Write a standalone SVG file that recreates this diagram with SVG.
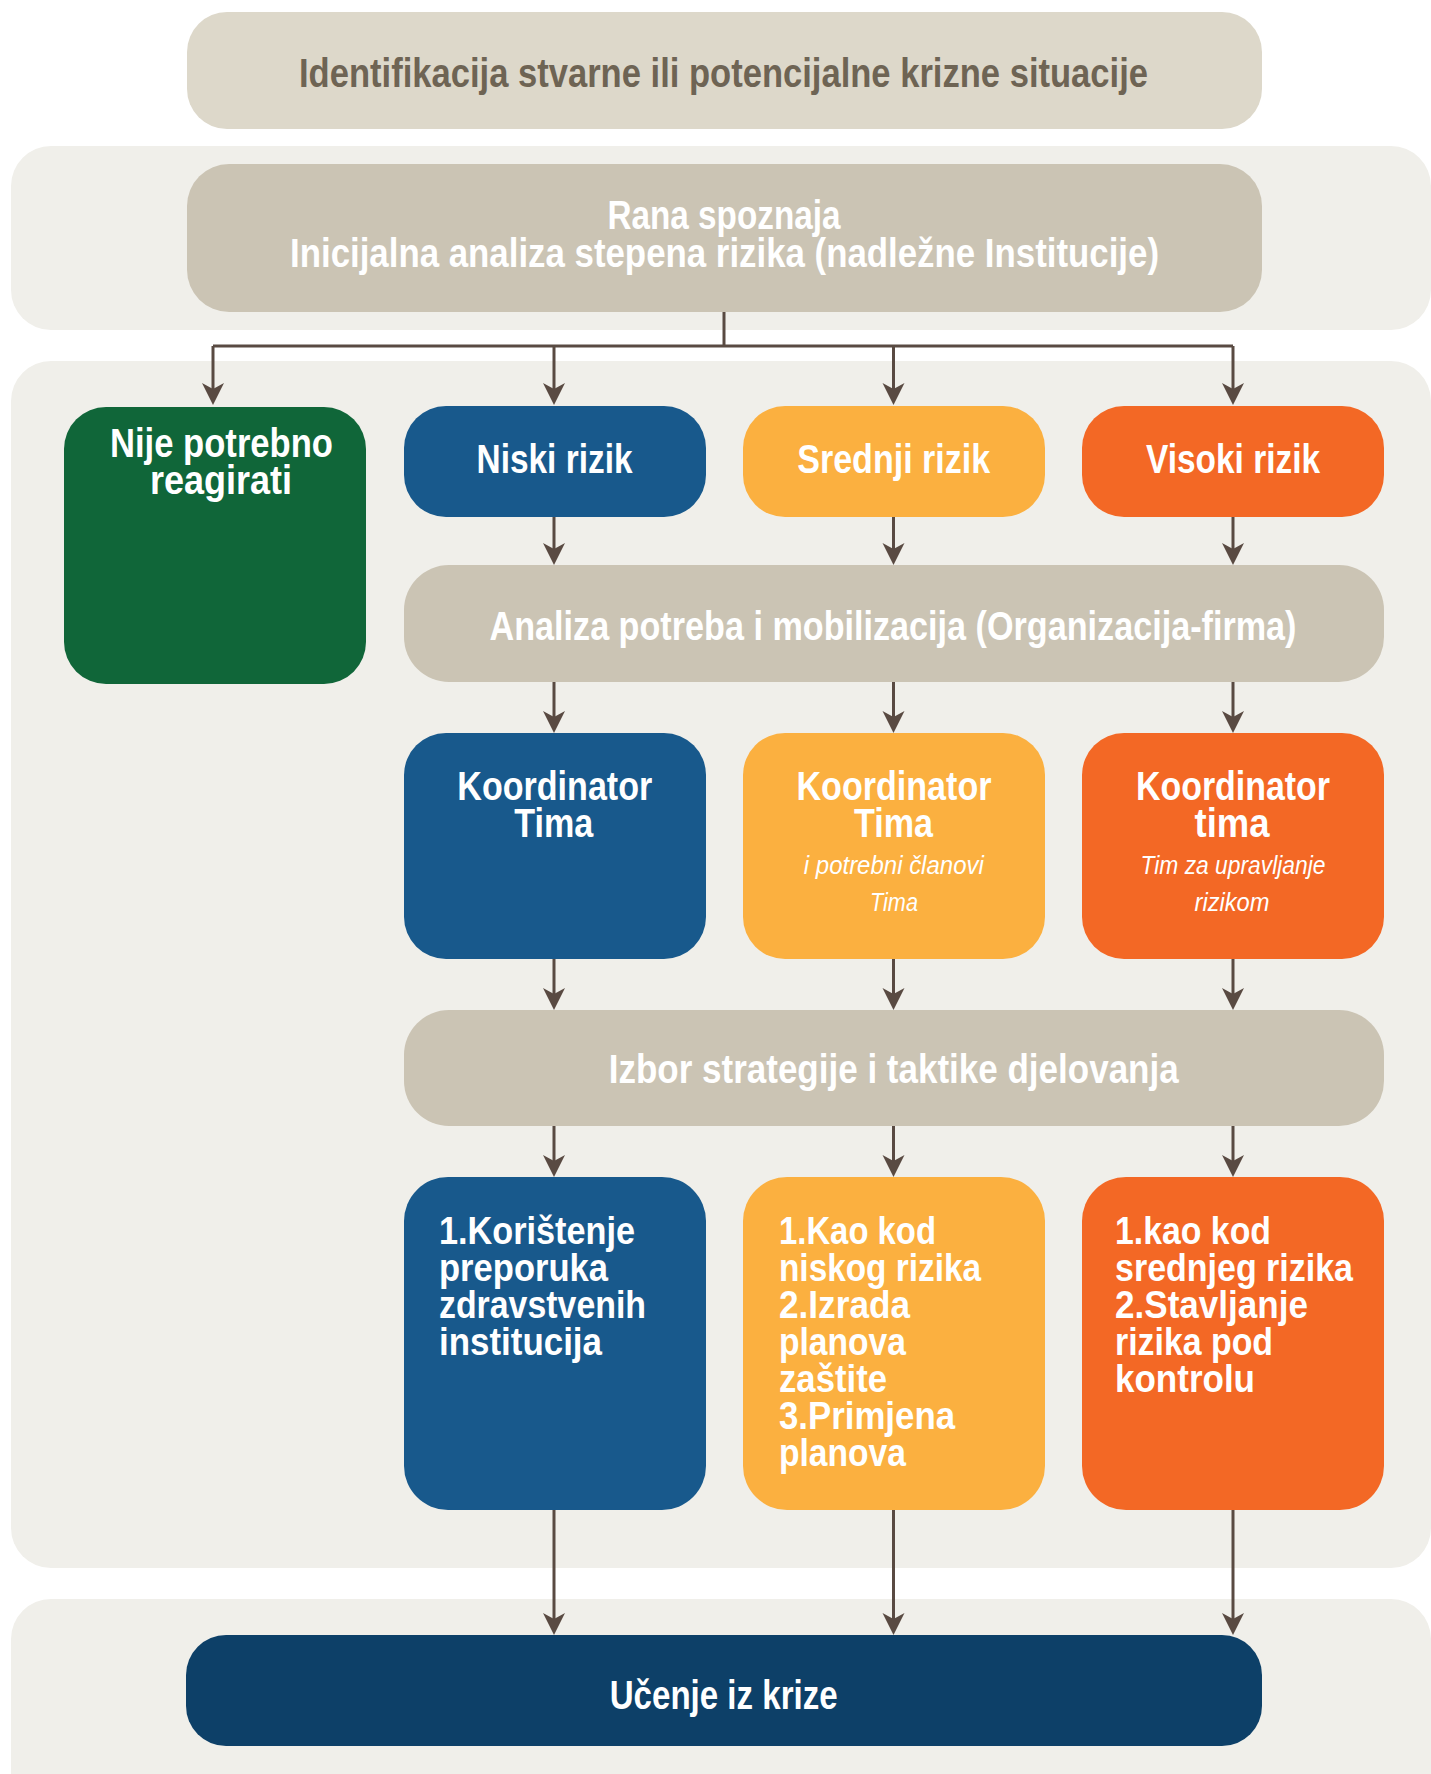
<svg xmlns="http://www.w3.org/2000/svg" width="1431" height="1774" viewBox="0 0 1431 1774">
<defs>
<style>
.t{font-family:"Liberation Sans Narrow","Liberation Sans",Arial,sans-serif;font-weight:bold;font-size:41px;fill:#ffffff;text-anchor:middle}
.l{font-family:"Liberation Sans Narrow","Liberation Sans",Arial,sans-serif;font-weight:bold;font-size:38px;fill:#ffffff;text-anchor:start}
.i{font-family:"Liberation Sans Narrow","Liberation Sans",Arial,sans-serif;font-style:italic;font-size:26px;fill:#ffffff;text-anchor:middle}
.panel{fill:#f0efea}
.grey{fill:#cbc4b4}
.blue{fill:#18598c}
.yel{fill:#fbb040}
.ora{fill:#f36825}
.conn{fill:none;stroke:#594a42;stroke-width:3}
</style>
<marker id="ah" markerUnits="userSpaceOnUse" viewBox="-23 -12 24 24" markerWidth="24" markerHeight="24" refX="-6" refY="0" orient="auto">
<path d="M0,0 L-22,-11 L-16,0 L-22,11 Z" fill="#594a42"/>
</marker>
</defs>
<rect width="1431" height="1774" fill="#ffffff"/>
<g id="panels">
<rect class="panel" x="11" y="146" width="1420" height="184" rx="40"/>
<rect class="panel" x="11" y="361" width="1420" height="1207" rx="40"/>
<rect class="panel" x="11" y="1599" width="1420" height="220" rx="40"/>
</g>
<g id="connectors">
<path class="conn" d="M724,312 V346"/>
<path class="conn" d="M213,346 H1233"/>
<path class="conn" marker-end="url(#ah)" d="M213,346 V399"/>
<path class="conn" marker-end="url(#ah)" d="M554,346 V399"/>
<path class="conn" marker-end="url(#ah)" d="M893.5,346 V399"/>
<path class="conn" marker-end="url(#ah)" d="M1233,346 V399"/>
<path class="conn" marker-end="url(#ah)" d="M554,517 V559"/>
<path class="conn" marker-end="url(#ah)" d="M893.5,517 V559"/>
<path class="conn" marker-end="url(#ah)" d="M1233,517 V559"/>
<path class="conn" marker-end="url(#ah)" d="M554,682 V727"/>
<path class="conn" marker-end="url(#ah)" d="M893.5,682 V727"/>
<path class="conn" marker-end="url(#ah)" d="M1233,682 V727"/>
<path class="conn" marker-end="url(#ah)" d="M554,959 V1004"/>
<path class="conn" marker-end="url(#ah)" d="M893.5,959 V1004"/>
<path class="conn" marker-end="url(#ah)" d="M1233,959 V1004"/>
<path class="conn" marker-end="url(#ah)" d="M554,1126 V1171"/>
<path class="conn" marker-end="url(#ah)" d="M893.5,1126 V1171"/>
<path class="conn" marker-end="url(#ah)" d="M1233,1126 V1171"/>
<path class="conn" marker-end="url(#ah)" d="M554,1510 V1629"/>
<path class="conn" marker-end="url(#ah)" d="M893.5,1510 V1629"/>
<path class="conn" marker-end="url(#ah)" d="M1233,1510 V1629"/>
</g>
<g id="identifikacija">
<rect x="187" y="12" width="1075" height="117" rx="40" fill="#ddd8ca"/>
<text class="t" x="723.5" y="87" textLength="849" lengthAdjust="spacingAndGlyphs" style="fill:#6e6454">Identifikacija stvarne ili potencijalne krizne situacije</text>
</g>
<g id="rana-spoznaja">
<rect class="grey" x="187" y="164" width="1075" height="148" rx="42"/>
<text class="t" x="724" y="229" textLength="233" lengthAdjust="spacingAndGlyphs">Rana spoznaja</text>
<text class="t" x="724.5" y="267" textLength="869" lengthAdjust="spacingAndGlyphs">Inicijalna analiza stepena rizika (nadležne Institucije)</text>
</g>
<g id="nije-potrebno">
<rect x="64" y="407" width="302" height="277" rx="42" fill="#106639"/>
<text class="t" x="221.5" y="456.5" textLength="223" lengthAdjust="spacingAndGlyphs">Nije potrebno</text>
<text class="t" x="221" y="494" textLength="142" lengthAdjust="spacingAndGlyphs">reagirati</text>
</g>
<g id="niski-rizik">
<rect class="blue" x="404" y="406" width="302" height="111" rx="42"/>
<text class="t" x="554.5" y="473" textLength="156" lengthAdjust="spacingAndGlyphs">Niski rizik</text>
</g>
<g id="srednji-rizik">
<rect class="yel" x="743" y="406" width="302" height="111" rx="42"/>
<text class="t" x="893.7" y="473" textLength="193" lengthAdjust="spacingAndGlyphs">Srednji rizik</text>
</g>
<g id="visoki-rizik">
<rect class="ora" x="1082" y="406" width="302" height="111" rx="42"/>
<text class="t" x="1233" y="473" textLength="174" lengthAdjust="spacingAndGlyphs">Visoki rizik</text>
</g>
<g id="analiza">
<rect class="grey" x="404" y="565" width="980" height="117" rx="45"/>
<text class="t" x="893" y="640" textLength="807" lengthAdjust="spacingAndGlyphs">Analiza potreba i mobilizacija (Organizacija-firma)</text>
</g>
<g id="koordinator-niski">
<rect class="blue" x="404" y="733" width="302" height="226" rx="42"/>
<text class="t" x="554.8" y="800" textLength="195" lengthAdjust="spacingAndGlyphs">Koordinator</text>
<text class="t" x="553.7" y="836.5" textLength="79" lengthAdjust="spacingAndGlyphs">Tima</text>
</g>
<g id="koordinator-srednji">
<rect class="yel" x="743" y="733" width="302" height="226" rx="42"/>
<text class="t" x="894" y="800" textLength="195" lengthAdjust="spacingAndGlyphs">Koordinator</text>
<text class="t" x="893.5" y="836.5" textLength="79" lengthAdjust="spacingAndGlyphs">Tima</text>
<text class="i" x="893.8" y="873.7" textLength="180" lengthAdjust="spacingAndGlyphs">i  potrebni članovi</text>
<text class="i" x="894" y="911" textLength="48" lengthAdjust="spacingAndGlyphs">Tima</text>
</g>
<g id="koordinator-visoki">
<rect class="ora" x="1082" y="733" width="302" height="226" rx="42"/>
<text class="t" x="1233" y="800" textLength="194" lengthAdjust="spacingAndGlyphs">Koordinator</text>
<text class="t" x="1232" y="836.5" textLength="75" lengthAdjust="spacingAndGlyphs">tima</text>
<text class="i" x="1233" y="873.7" textLength="185" lengthAdjust="spacingAndGlyphs">Tim za upravljanje</text>
<text class="i" x="1232" y="911" textLength="75" lengthAdjust="spacingAndGlyphs">rizikom</text>
</g>
<g id="izbor">
<rect class="grey" x="404" y="1010" width="980" height="116" rx="45"/>
<text class="t" x="893.7" y="1083" textLength="570" lengthAdjust="spacingAndGlyphs">Izbor strategije i taktike djelovanja</text>
</g>
<g id="strategija-niski">
<rect class="blue" x="404" y="1177" width="302" height="333" rx="44"/>
<text class="l" x="439" y="1244.3" textLength="196" lengthAdjust="spacingAndGlyphs">1.Korištenje</text>
<text class="l" x="439" y="1281.3" textLength="169" lengthAdjust="spacingAndGlyphs">preporuka</text>
<text class="l" x="439" y="1318.3" textLength="207" lengthAdjust="spacingAndGlyphs">zdravstvenih</text>
<text class="l" x="439" y="1355.3" textLength="163" lengthAdjust="spacingAndGlyphs">institucija</text>
</g>
<g id="strategija-srednji">
<rect class="yel" x="743" y="1177" width="302" height="333" rx="44"/>
<text class="l" x="779" y="1244.3" textLength="157" lengthAdjust="spacingAndGlyphs">1.Kao kod</text>
<text class="l" x="779" y="1281.3" textLength="202" lengthAdjust="spacingAndGlyphs">niskog rizika</text>
<text class="l" x="779" y="1318.3" textLength="131" lengthAdjust="spacingAndGlyphs">2.Izrada</text>
<text class="l" x="779" y="1355.3" textLength="127" lengthAdjust="spacingAndGlyphs">planova</text>
<text class="l" x="779" y="1392.3" textLength="108" lengthAdjust="spacingAndGlyphs">zaštite</text>
<text class="l" x="779" y="1429.3" textLength="176" lengthAdjust="spacingAndGlyphs">3.Primjena</text>
<text class="l" x="779" y="1466.3" textLength="127" lengthAdjust="spacingAndGlyphs">planova</text>
</g>
<g id="strategija-visoki">
<rect class="ora" x="1082" y="1177" width="302" height="333" rx="44"/>
<text class="l" x="1115" y="1244.3" textLength="156" lengthAdjust="spacingAndGlyphs">1.kao kod</text>
<text class="l" x="1115" y="1281.3" textLength="238" lengthAdjust="spacingAndGlyphs">srednjeg rizika</text>
<text class="l" x="1115" y="1318.3" textLength="193" lengthAdjust="spacingAndGlyphs">2.Stavljanje</text>
<text class="l" x="1115" y="1355.3" textLength="158" lengthAdjust="spacingAndGlyphs">rizika pod</text>
<text class="l" x="1115" y="1392.3" textLength="140" lengthAdjust="spacingAndGlyphs">kontrolu</text>
</g>
<g id="ucenje">
<rect x="186" y="1635" width="1076" height="111" rx="40" fill="#0d4068"/>
<text class="t" x="723.7" y="1709" textLength="228" lengthAdjust="spacingAndGlyphs">Učenje iz krize</text>
</g>
</svg>
